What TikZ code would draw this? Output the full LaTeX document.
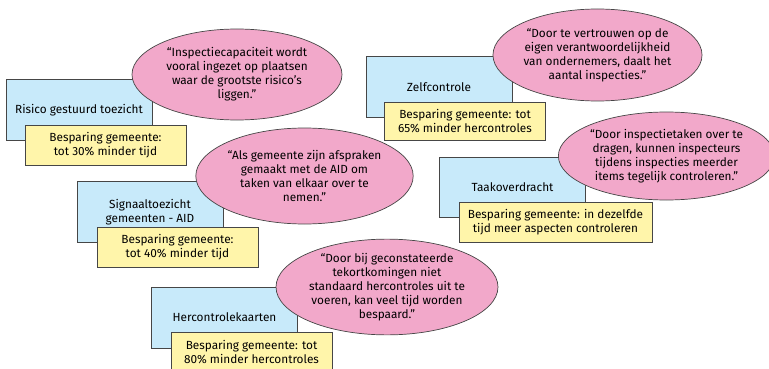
\documentclass[tikz,border=0pt]{standalone}
\usepackage{fontspec}
\setmainfont{Fira Sans}
\usetikzlibrary{shapes.geometric}
\definecolor{blauw}{RGB}{200,234,250}
\definecolor{geel}{RGB}{255,245,170}
\definecolor{roze}{RGB}{242,168,202}
\definecolor{rand}{RGB}{70,70,70}

\begin{document}
\begin{tikzpicture}[x=1pt, y=-1pt, font=\fontsize{11.8}{14}\selectfont]
		\tikzstyle{every node}=[draw=rand, line width=0.7pt, align=center, inner sep=2pt]
		\tikzstyle{methode}=[rectangle, fill=blauw, minimum width=146pt, minimum height=61pt]
		\tikzstyle{besparing}=[rectangle, fill=geel, minimum width=161pt, minimum height=40pt]
		\tikzstyle{citaat}=[ellipse, fill=roze, inner sep=0pt]
		\useasboundingbox (0,0) rectangle (769,369);

		\draw (79,110) node[methode] (risico) {Risico gestuurd toezicht};
		\draw (237,74.5) node[citaat, minimum width=210pt, minimum height=91pt] (risicoq) {“Inspectiecapaciteit wordt\\vooral ingezet op plaatsen\\waar de grootste risico’s\\liggen.”};
		\draw (105.5,145) node[besparing] (risicob) {Besparing gemeente:\\tot 30\% minder tijd};

		\draw (439,87) node[methode] (zelf) {Zelfcontrole};
		\draw (597.5,55) node[citaat, minimum width=209pt, minimum height=92pt] (zelfq) {“Door te vertrouwen op de\\eigen verantwoordelijkheid\\van ondernemers, daalt het\\aantal inspecties.”};
		\draw (465,121) node[besparing, minimum height=38pt] (zelfb) {Besparing gemeente: tot\\65\% minder hercontroles};

		\draw (150,212) node[methode] (signaal) {Signaaltoezicht\\gemeenten - AID};
		\draw (304.5,176) node[citaat, minimum width=207pt, minimum height=96pt] (signaalq) {“Als gemeente zijn afspraken\\gemaakt met de AID om\\taken van elkaar over te\\nemen.”};
		\draw (177.5,247) node[besparing] (signaalb) {Besparing gemeente:\\tot 40\% minder tijd};

		\draw (512.5,187) node[methode, minimum height=60pt] (taak) {Taakoverdracht};
		\draw (666.5,156) node[citaat, minimum width=203pt, minimum height=88pt] (taakq) {“Door inspectietaken over te\\dragen, kunnen inspecteurs\\tijdens inspecties meerder\\items tegelijk controleren.”};
		\draw (555.5,222) node[besparing, minimum width=193pt] (taakb) {Besparing gemeente: in dezelfde\\tijd meer aspecten controleren};

		\draw (224.5,317.5) node[methode] (her) {Hercontrolekaarten};
		\draw (387,287) node[citaat, minimum width=222pt, minimum height=92pt] (herq) {“Door bij geconstateerde\\tekortkomingen niet\\standaard hercontroles uit te\\voeren, kan veel tijd worden\\bespaard.”};
		\draw (251.5,352) node[besparing] (herb) {Besparing gemeente: tot\\80\% minder hercontroles};
	\end{tikzpicture}
\end{document}
